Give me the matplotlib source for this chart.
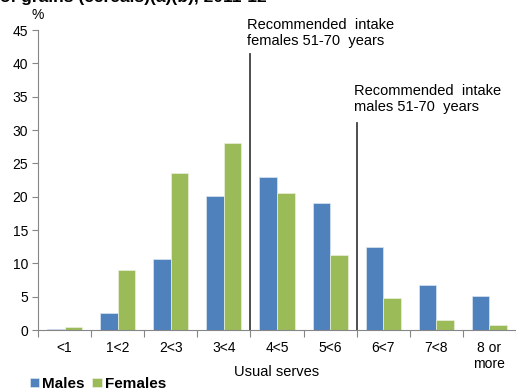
import numpy as np
import matplotlib
matplotlib.use("Agg")
from matplotlib import pyplot as plt

categories = ['<1', '1<2', '2<3', '3<4', '4<5', '5<6', '6<7', '7<8', '8 or\nmore']
males = [0.2, 2.5, 10.7, 20.1, 22.9, 19.0, 12.4, 6.8, 5.1]
females = [0.5, 9.0, 23.5, 28.1, 20.5, 11.2, 4.8, 1.5, 0.7]
yticks = [0, 5, 10, 15, 20, 25, 30, 35, 40, 45]

# recommended intake markers (position in serves, top of line in %)
rec_female = (4.0, 41.4)
rec_male = (6.0, 31.0)

plt.rcParams['font.family'] = ['Liberation Sans', 'DejaVu Sans']

blue = '#4F81BD'
green = '#9BBB59'

fig = plt.figure(figsize=(5.16, 3.91), dpi=100)
ax = fig.add_axes([38 / 516, 61 / 391, 1 - 38 / 516, 300 / 391])

x = np.arange(len(categories))
w = 0.33
ax.bar(x - w / 2, males, width=w, color=blue, edgecolor='#dce6f2', linewidth=0.5, label='Males')
ax.bar(x + w / 2, females, width=w, color=green, edgecolor='#ebf1de', linewidth=0.5, label='Females')

ax.set_xlim(-0.5, len(categories) - 0.5)
ax.set_ylim(0, 45)
ax.set_yticks(yticks)
ax.tick_params(axis='y', labelsize=10, length=4, color='#868686', pad=3)

# category labels between boundary ticks
ax.set_xticks(np.arange(len(categories) + 1) - 0.5)
ax.set_xticklabels([])
ax.set_xticks(x, minor=True)
ax.set_xticklabels(categories, minor=True, fontsize=10, va='top', linespacing=1.15)
ax.tick_params(axis='x', which='major', length=5, color='#868686')
ax.tick_params(axis='x', which='minor', length=0, pad=8)

for s in ['top', 'right']:
    ax.spines[s].set_visible(False)
for s in ['left', 'bottom']:
    ax.spines[s].set_color('#868686')

ax.set_xlabel('Usual serves', fontsize=10.5)
ax.xaxis.set_label_coords(0.5, -0.118)

# recommended intake lines
ax.plot([rec_female[0] - 0.5] * 2, [0, rec_female[1]], color='#404040', lw=1.3, clip_on=False)
ax.plot([rec_male[0] - 0.5] * 2, [0, rec_male[1]], color='#404040', lw=1.3, clip_on=False)
ax.text(rec_female[0] - 0.5 - 0.07, 44.5, 'Recommended  intake\nfemales 51-70  years',
        fontsize=10.5, va='center', ha='left', linespacing=1.2)
ax.text(rec_male[0] - 0.5 - 0.05, 34.65, 'Recommended  intake\nmales 51-70  years',
        fontsize=10.5, va='center', ha='left', linespacing=1.2)

fig.text(38 / 516, 1 - 15 / 391, '%', fontsize=10, ha='center', va='center')
fig.text(0, 1 - 2 / 391, 'of grains (cereals)(a)(b), 2011-12', fontsize=12.5,
         fontweight='bold', ha='left', va='baseline')

fig.legend(loc='lower left', bbox_to_anchor=(24 / 516, -6 / 391), ncol=2, frameon=False,
           prop={'size': 11, 'weight': 'bold'}, handlelength=0.6, handleheight=0.6,
           handletextpad=0.2, columnspacing=0.5, borderaxespad=0)

fig.savefig('out.png', dpi=100)
